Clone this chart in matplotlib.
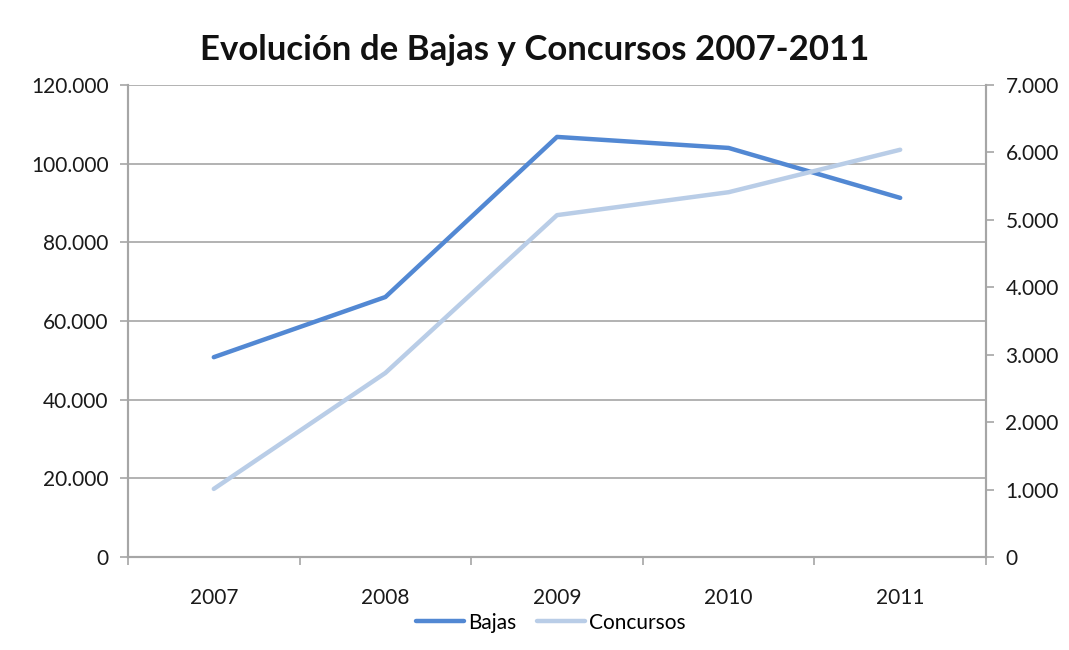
import numpy as np
import matplotlib.pyplot as plt
from matplotlib.ticker import FuncFormatter

years = ['2007', '2008', '2009', '2010', '2011']
bajas = [50800, 66100, 106800, 104000, 91300]
concursos = [1010, 2730, 5070, 5410, 6040]

plt.rcParams['font.family'] = ['Lato', 'DejaVu Sans']

def miles(v, pos):
    return '{:,.0f}'.format(v).replace(',', '.')

fig = plt.figure(figsize=(10.69, 6.5), dpi=100)
ax = fig.add_axes([128 / 1069, 1 - 557 / 650, (986 - 128) / 1069, (557 - 85) / 650])
ax2 = ax.twinx()

x = np.arange(len(years))
l1, = ax.plot(x, bajas, color='#5288d3', lw=3.2, solid_capstyle='round', label='Bajas', zorder=3)
l2, = ax2.plot(x, concursos, color='#b9cde7', lw=3.2, solid_capstyle='round', label='Concursos', zorder=3)

ax.set_ylim(0, 120000)
ax.set_yticks(np.arange(0, 120001, 20000))
ax2.set_ylim(0, 7000)
ax2.set_yticks(np.arange(0, 7001, 1000))
ax.yaxis.set_major_formatter(FuncFormatter(miles))
ax2.yaxis.set_major_formatter(FuncFormatter(miles))

fs = 15
ax.set_xlim(-0.5, 4.5)
ax.set_xticks(np.arange(-0.5, 4.6, 1))
ax.set_xticklabels([])
ax.set_xticks(x, minor=True)
ax.set_xticklabels(years, minor=True)
ax.tick_params(axis='x', which='minor', length=0, pad=22, labelsize=fs, labelcolor='#1a1a1a')
ax.tick_params(axis='x', which='major', length=6, color='#a6a6a6', width=1.2)

ax.grid(axis='y', color='#a6a6a6', lw=1.2)
ax.set_axisbelow(True)
for a in (ax, ax2):
    a.spines['top'].set_visible(False)
    for s in ('left', 'right', 'bottom'):
        a.spines[s].set_color('#a6a6a6')
        a.spines[s].set_linewidth(1.5)
    a.tick_params(axis='y', length=6, color='#a6a6a6', width=1.2, labelsize=fs, labelcolor='#1a1a1a', pad=8)

fig.text(0.5, 0.923, 'Evolución de Bajas y Concursos 2007-2011', ha='center', va='center',
         fontsize=25, fontweight='bold', color='#111111')

fig.legend([l1, l2], ['Bajas', 'Concursos'], loc='center', bbox_to_anchor=(0.515, 0.042),
           ncol=2, frameon=False, fontsize=fs, handlelength=2.3, handletextpad=0.2,
           columnspacing=1.0)

fig.savefig('out.png', dpi=100)
